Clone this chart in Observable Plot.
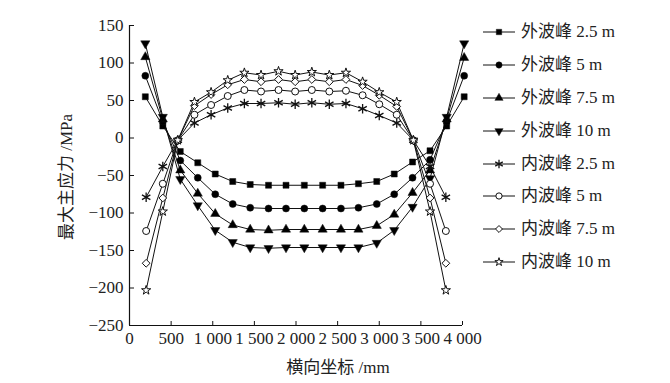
<!DOCTYPE html>
<html><head><meta charset="utf-8">
<script src="https://cdn.jsdelivr.net/npm/d3@7"></script>
<script src="https://cdn.jsdelivr.net/npm/@observablehq/plot@0.6"></script>
<style>
body{margin:0;background:#fff;}
#wrap{position:relative;width:670px;height:383px;overflow:hidden;font-family:"Liberation Serif","Noto Sans CJK SC",serif;color:#222;}
#wrap svg{position:absolute;left:0;top:0;}
.lab{position:absolute;white-space:nowrap;font-size:17px;line-height:1;}
.leg{position:absolute;left:483px;height:20px;white-space:nowrap;font-size:17px;line-height:20px;}
.leg svg{position:static !important;vertical-align:top;}
.leg span{position:absolute;left:38px;top:0;}
</style></head><body><div id="wrap"></div>
<script>
// ---- data ----
const seriesNames = ["外波峰 2.5 m","外波峰 5 m","外波峰 7.5 m","外波峰 10 m","内波峰 2.5 m","内波峰 5 m","内波峰 7.5 m","内波峰 10 m"];
const outerX = [190, 400, 610, 820, 1030, 1240, 1450, 1670, 1880, 2100, 2320, 2540, 2750, 2970, 3180, 3400, 3610, 3810, 4020];
const innerX = [200, 400, 580, 780, 980, 1180, 1380, 1580, 1790, 1990, 2190, 2400, 2600, 2800, 3000, 3210, 3410, 3610, 3800];
const outer25 = [55, 16, -18, -33, -48, -58, -62, -63, -63, -63, -63, -63, -61, -58, -48, -32, -17, 16, 55];
const outer50 = [83, 22, -30, -53, -75, -88, -93, -94, -94, -94, -94, -94, -93, -88, -75, -53, -29, 22, 83];
const outer75 = [108, 25, -43, -74, -101, -116, -122, -123, -122, -122, -122, -122, -122, -117, -102, -73, -43, 25, 107];
const outer100 = [126, 28, -55, -90, -123, -139, -146, -147, -146, -146, -146, -146, -146, -140, -123, -92, -54, 28, 126];
const inner25 = [-79, -38, -3, 20, 31, 40, 46, 46, 47, 45, 47, 45, 46, 39, 30, 20, -3, -38, -79];
const inner50 = [-124, -61, -3, 31, 44, 56, 64, 62, 64, 62, 64, 62, 63, 57, 45, 31, -3, -61, -124];
const inner75 = [-167, -80, -3, 43, 58, 71, 78, 75, 78, 75, 78, 75, 78, 70, 57, 42, -3, -80, -167];
const inner100 = [-203, -98, -3, 48, 61, 77, 87, 84, 89, 84, 88, 84, 87, 75, 61, 48, -3, -98, -203];
const xTicks = [0, 500, 1000, 1500, 2000, 2500, 3000, 3500, 4000];
const xTickLabels = ["0", "500", "1 000", "1 500", "2 000", "2 500", "3 000", "3 500", "4 000"];
const yTicks = [-250, -200, -150, -100, -50, 0, 50, 100, 150];
const yTickLabels = ["−250", "−200", "−150", "−100", "−50", "0", "50", "100", "150"];

// ---- symbols ----
const triDown = {draw(context, size) {
  const s3 = Math.sqrt(3);
  const y = -Math.sqrt(size / (s3 * 3));
  context.moveTo(0, -y * 2);
  context.lineTo(-s3 * y, y);
  context.lineTo(s3 * y, y);
  context.closePath();
}};
const styles = [
  {symbol: "square", fill: "black", sym: d3.symbolSquare, r: 3.4, sw: 0.5},
  {symbol: "circle", fill: "black", sym: d3.symbolCircle, r: 3.5, sw: 0.5},
  {symbol: "triangle", fill: "black", sym: d3.symbolTriangle, r: 3.4, sw: 0.5},
  {symbol: triDown, fill: "black", sym: triDown, r: 3.4, sw: 0.5},
  {symbol: "asterisk", fill: "none", sym: d3.symbolAsterisk, r: 4.6, sw: 1.3},
  {symbol: "circle", fill: "white", sym: d3.symbolCircle, r: 3.5, sw: 1},
  {symbol: "diamond2", fill: "white", sym: d3.symbolDiamond2, r: 3.5, sw: 1},
  {symbol: "star", fill: "white", sym: d3.symbolStar, r: 2.9, sw: 1}
];
const seriesVals = [outer25, outer50, outer75, outer100, inner25, inner50, inner75, inner100];
const rows = [];
seriesVals.forEach((vals, s) => {
  const xs = s < 4 ? outerX : innerX;
  vals.forEach((v, i) => rows.push({series: seriesNames[s], s, x: xs[i], y: v}));
});

const plot = Plot.plot({
  width: 670, height: 383,
  marginLeft: 129, marginRight: 208, marginTop: 25, marginBottom: 58,
  style: {fontFamily: '"Liberation Serif","Noto Sans CJK SC",serif', fontSize: "17px", color: "#222", background: "transparent"},
  x: {domain: [0, 4000], label: null},
  y: {domain: [-250, 150], label: null},
  marks: [
    Plot.ruleX([0], {stroke: "#111", strokeWidth: 1.2}),
    Plot.ruleY([-250], {stroke: "#111", strokeWidth: 1.2}),
    Plot.axisY({ticks: yTicks, tickSize: -5, tickFormat: () => "", stroke: "#111", label: null}),
    Plot.axisY({ticks: yTicks, tickSize: 0, tickPadding: 6, tickFormat: d => yTickLabels[yTicks.indexOf(d)], fill: "#222", fontSize: 17, label: null}),
    Plot.axisX({ticks: xTicks, tickSize: -4, tickFormat: () => "", stroke: "#111", label: null}),
    Plot.axisX({ticks: xTicks, tickSize: 0, tickPadding: 6, tickFormat: d => xTickLabels[xTicks.indexOf(d)], fill: "#222", fontSize: 17, label: null}),
    Plot.line(rows, {x: "x", y: "y", z: "series", stroke: "#111", strokeWidth: 1}),
    ...styles.map((st, s) => Plot.dot(rows.filter(d => d.s === s), {
      x: "x", y: "y", r: st.r, symbol: st.symbol,
      fill: st.fill, stroke: "#111", strokeWidth: st.sw
    }))
  ]
});
const wrap = document.getElementById("wrap");
wrap.appendChild(plot);

// axis titles
const yl = document.createElement("div");
yl.className = "lab";
yl.textContent = "最大主应力 /MPa";
yl.style.left = "66px"; yl.style.top = "177px";
yl.style.transform = "translate(-50%,-50%) rotate(-90deg)";
wrap.appendChild(yl);
const xl = document.createElement("div");
xl.className = "lab";
xl.textContent = "横向坐标 /mm";
xl.style.left = "338px"; xl.style.top = "367px";
xl.style.transform = "translate(-50%,-50%)";
wrap.appendChild(xl);

// legend
seriesNames.forEach((name, s) => {
  const st = styles[s];
  const item = document.createElement("div");
  item.className = "leg";
  item.style.top = (32.3 + s * 32.8 - 10) + "px";
  const path = d3.symbol(st.sym, Math.PI * st.r * st.r * 0.8)();
  item.innerHTML = `<svg width="34" height="20"><line x1="0" x2="32" y1="10" y2="10" stroke="#111" stroke-width="1"/>` +
    `<path transform="translate(16,10)" d="${path}" fill="${st.fill}" stroke="#111" stroke-width="${st.sw}"/></svg><span>${name}</span>`;
  wrap.appendChild(item);
});
</script></body></html>
